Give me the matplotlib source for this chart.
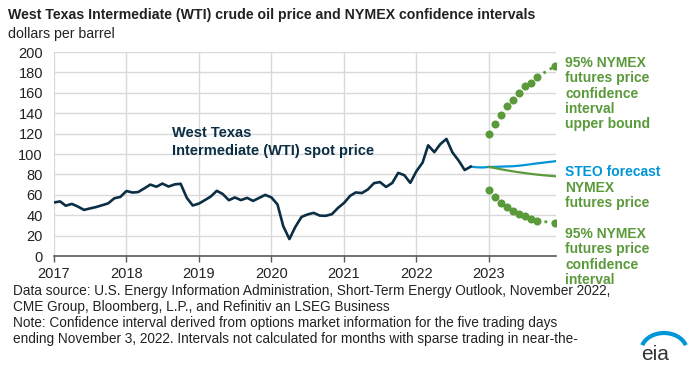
import numpy as np
import pandas as pd
import matplotlib
matplotlib.use("Agg")
import matplotlib.pyplot as plt
from matplotlib.patches import Arc

plt.rcParams['font.family'] = ['Liberation Sans', 'DejaVu Sans']

# monthly WTI spot price, Jan 2017 - Oct 2022 (dollars per barrel)
wti_hist = [52.5, 53.5, 49.3, 51.1, 48.5, 45.2, 46.6, 48.0, 49.8, 51.6, 56.6, 57.9,
            63.7, 62.2, 62.7, 66.3, 70.0, 67.9, 71.0, 68.1, 70.2, 70.8, 57.0, 49.5,
            51.4, 54.9, 58.2, 63.9, 60.8, 54.7, 57.4, 54.8, 57.0, 54.0, 57.0, 59.9,
            57.5, 50.5, 29.2, 16.6, 28.6, 38.3, 40.7, 42.3, 39.6, 39.4, 41.0, 47.0,
            52.0, 59.0, 62.3, 61.7, 65.2, 71.4, 72.5, 67.7, 71.6, 81.5, 79.2, 71.7,
            83.2, 91.6, 108.5, 101.8, 109.6, 114.8, 101.6, 93.7, 84.3, 87.6]
# STEO forecast, Oct 2022 - Dec 2023
steo = [87.6, 87.0, 86.8, 87.3, 87.4, 87.6, 87.8, 88.0, 88.5, 89.2, 90.0, 90.8,
        91.5, 92.2, 92.9]
# NYMEX futures price and 95% confidence interval, Jan - Dec 2023
nymex = [87.3, 86.2, 85.1, 84.0, 83.0, 82.1, 81.3, 80.5, 79.8, 79.2, 78.7, 78.2]
ci_upper = [120.0, 129.1, 138.7, 146.8, 153.4, 159.8, 166.4, 170.0, 175.5,
            np.nan, np.nan, 186.3]
ci_lower = [64.4, 57.9, 52.0, 48.1, 44.1, 41.6, 39.2, 36.7, 34.3,
            np.nan, np.nan, 32.7]
years = [2017, 2018, 2019, 2020, 2021, 2022, 2023]

hist_dates = pd.date_range('2017-01-01', periods=len(wti_hist), freq='MS')
steo_dates = pd.date_range('2022-10-01', periods=len(steo), freq='MS')
fut_dates = pd.date_range('2023-01-01', periods=len(nymex), freq='MS')

navy = '#0b2e44'
blue = '#0096d7'
green = '#5b9a3a'

W, H = 700, 376
fig = plt.figure(figsize=(W / 100, H / 100), dpi=100)
ax = fig.add_axes([54 / W, 1 - 256 / H, (556 - 54) / W, (256 - 52) / H])

ax.plot(hist_dates, wti_hist, color=navy, lw=1.9, solid_joinstyle='round', zorder=4)
ax.plot(steo_dates, steo, color=blue, lw=1.6, zorder=3)
ax.plot(fut_dates, nymex, color=green, lw=1.6, zorder=3)

for band in (ci_upper, ci_lower):
    s = pd.Series(band, index=fut_dates).dropna()
    ax.plot(s.index, s.values, 'o', color=green, ms=5.8, mec='none', zorder=5)
    # gap months (sparse trading) bridged by a dotted line
    ax.plot(s.index[-2:], s.values[-2:], ':', color=green, lw=2, zorder=5)

ax.set_xlim(pd.Timestamp('2017-01-01'), pd.Timestamp('2023-12-05'))
ax.set_ylim(0, 200)
ax.set_yticks(range(0, 201, 20))
ax.set_xticks([pd.Timestamp(f'{y}-01-01') for y in years])
ax.set_xticklabels([str(y) for y in years])
ax.grid(True, color='#d9d9d9', lw=1)
ax.set_axisbelow(True)
for side in ('top', 'right', 'left'):
    ax.spines[side].set_visible(False)
ax.spines['bottom'].set_color('#595959')
ax.spines['bottom'].set_linewidth(1.2)
ax.tick_params(axis='y', length=0, pad=8, labelsize=10.5, labelcolor='#222222')
ax.tick_params(axis='x', length=4, width=1, color='#595959', pad=4,
               labelsize=10.5, labelcolor='#222222')

ax.text(pd.Timestamp('2018-08-20'), 112, 'West Texas\nIntermediate (WTI) spot price',
        color=navy, fontsize=10.5, fontweight='bold', va='center', linespacing=1.35)


def ftext(x, y, s, **kw):
    fig.text(x / W, 1 - y / H, s, **kw)


ftext(8, 15, 'West Texas Intermediate (WTI) crude oil price and NYMEX confidence intervals',
      fontsize=10.2, fontweight='bold', color='#222222', va='center')
ftext(8, 34, 'dollars per barrel', fontsize=10.2, color='#222222', va='center')

lab = dict(fontsize=10, fontweight='bold', va='top', linespacing=1.12)
ftext(565, 56, '95% NYMEX\nfutures price\nconfidence\ninterval\nupper bound', color=green, **lab)
ftext(565, 165, 'STEO forecast', color=blue, **lab)
ftext(565, 181, 'NYMEX\nfutures price', color=green, **lab)
ftext(565, 227, '95% NYMEX\nfutures price\nconfidence\ninterval', color=green, **lab)

notes = ['Data source: U.S. Energy Information Administration, Short-Term Energy Outlook, November 2022,',
         'CME Group, Bloomberg, L.P., and Refinitiv an LSEG Business',
         'Note: Confidence interval derived from options market information for the five trading days',
         'ending November 3, 2022. Intervals not calculated for months with sparse trading in near-the-']
for i, line in enumerate(notes):
    ftext(13, 290.7 + 16 * i, line, fontsize=9.8, color='#222222', va='center')

# eia logo
lax = fig.add_axes([625 / W, 1 - 372 / H, 70 / W, 50 / H])
lax.set_xlim(625, 695)
lax.set_ylim(372, 322)
lax.axis('off')
lax.add_patch(Arc((664, 351), 46, 36, theta1=195, theta2=345, color=blue, lw=3))
lax.text(655, 354, 'eia', fontsize=15, color='#333333', ha='center', va='center')

fig.savefig('out.png', dpi=100)
